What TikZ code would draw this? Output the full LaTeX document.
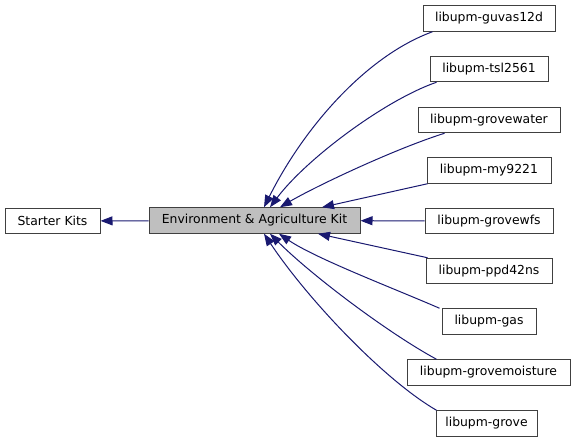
\documentclass[tikz,border=0pt]{standalone}
\usepackage{fontspec}
\setmainfont{DejaVu Sans}
\usetikzlibrary{arrows.meta}
\definecolor{edgeblue}{HTML}{191970}
\definecolor{boxline}{HTML}{404040}

\begin{document}
\begin{tikzpicture}[x=1pt, y=-1pt,
		kitbox/.style={draw=boxline, line width=1pt, minimum height=25.5pt, inner sep=0pt, font=\fontsize{12.4}{14}\selectfont},
		dep/.style={draw=edgeblue, line width=1pt, -{Triangle[length=12pt, width=9pt]}}]
			%%%%% START %%%%%
			
			\useasboundingbox (0, 0) rectangle (576, 443);
			
			\node[kitbox, minimum width=95pt] (starter) at (52.5, 221) {Starter Kits};
			\node[kitbox, minimum width=211pt, fill=black!25] (env) at (254.5, 220.5) {Environment \& Agriculture Kit};
			
			\node[kitbox, minimum width=132pt] (guvas) at (489, 18.5) {libupm-guvas12d};
			\node[kitbox, minimum width=118pt] (tsl) at (489, 69) {libupm-tsl2561};
			\node[kitbox, minimum width=142pt] (water) at (489, 120) {libupm-grovewater};
			\node[kitbox, minimum width=124pt] (my) at (489, 170.5) {libupm-my9221};
			\node[kitbox, minimum width=128pt] (wfs) at (489, 221) {libupm-grovewfs};
			\node[kitbox, minimum width=126pt] (ppd) at (489, 271) {libupm-ppd42ns};
			\node[kitbox, minimum width=94pt] (gas) at (489, 321.5) {libupm-gas};
			\node[kitbox, minimum width=163pt] (moist) at (488.5, 372.5) {libupm-grovemoisture};
			\node[kitbox, minimum width=101pt] (grove) at (486.5, 423.5) {libupm-grove};
			
			\draw[dep] (env) -- (starter);
			\draw[dep] (wfs) -- (env);
			
			\draw[dep] ([xshift=10pt]guvas.south west) .. controls +(-66, 24) and +(40, -80) .. ([xshift=9.5pt]env.north);
			\draw[dep] ([xshift=7pt]tsl.south west) .. controls +(-52, 18) and +(36, -48) .. ([xshift=15.5pt]env.north);
			\draw[dep] ([xshift=27pt]water.south west) .. controls +(-52, 16.5) and +(34, -20) .. ([xshift=25.5pt]env.north);
			\draw[dep] ([xshift=1pt]my.south west) -- ([xshift=67.5pt]env.north);
			
			\draw[dep] ([xshift=2pt]ppd.north west) -- ([xshift=63.5pt]env.south);
			\draw[dep] ([xshift=-2pt]gas.north west) .. controls +(-46, -20) and +(37, 25) .. ([xshift=24.5pt]env.south);
			\draw[dep] ([xshift=30pt]moist.north west) .. controls +(-48, -26) and +(42, 42) .. ([xshift=15.5pt]env.south);
			\draw[dep] ([xshift=1pt]grove.north west) .. controls +(-52, -30) and +(44, 66) .. ([xshift=9.5pt]env.south);
			
			%%%%% END %%%%%
		\end{tikzpicture}
\end{document}
